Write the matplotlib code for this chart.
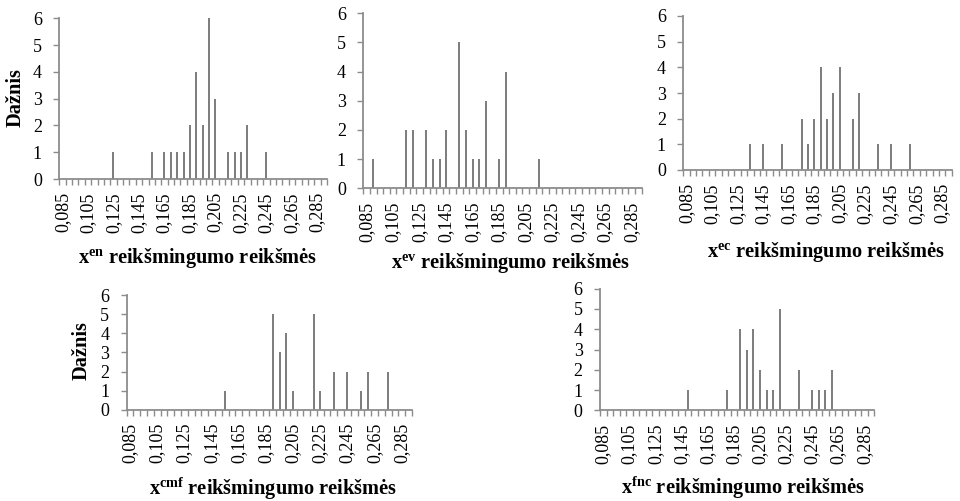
import numpy as np
import matplotlib
matplotlib.use("Agg")
import matplotlib.pyplot as plt

plt.rcParams['font.family'] = ['Liberation Serif', 'DejaVu Serif']
plt.rcParams['mathtext.fontset'] = 'custom'
plt.rcParams['mathtext.rm'] = 'Liberation Serif'
plt.rcParams['mathtext.bf'] = 'Liberation Serif:bold'
plt.rcParams['mathtext.it'] = 'Liberation Serif:italic'

# Category bins (significance values), step 0.005
bins = [0.085, 0.090, 0.095, 0.100, 0.105, 0.110, 0.115, 0.120, 0.125, 0.130,
        0.135, 0.140, 0.145, 0.150, 0.155, 0.160, 0.165, 0.170, 0.175, 0.180,
        0.185, 0.190, 0.195, 0.200, 0.205, 0.210, 0.215, 0.220, 0.225, 0.230,
        0.235, 0.240, 0.245, 0.250, 0.255, 0.260, 0.265, 0.270, 0.275, 0.280,
        0.285, 0.290]
tick_labels = ["0,085", "0,105", "0,125", "0,145", "0,165", "0,185",
               "0,205", "0,225", "0,245", "0,265", "0,285"]

# Frequencies of the significance values (non-empty bins only)
en_vals = [0.125, 0.155, 0.165, 0.170, 0.175, 0.180, 0.185, 0.190, 0.195,
           0.200, 0.205, 0.215, 0.220, 0.225, 0.230, 0.245]
en_cnts = [1, 1, 1, 1, 1, 1, 2, 4, 2, 6, 3, 1, 1, 1, 2, 1]

ev_vals = [0.090, 0.115, 0.120, 0.130, 0.135, 0.140, 0.145, 0.155, 0.160,
           0.165, 0.170, 0.175, 0.185, 0.190, 0.215]
ev_cnts = [1, 2, 2, 2, 1, 1, 2, 5, 2, 1, 1, 3, 1, 4, 1]

ec_vals = [0.135, 0.145, 0.160, 0.175, 0.180, 0.185, 0.190, 0.195, 0.200,
           0.205, 0.215, 0.220, 0.235, 0.245, 0.260]
ec_cnts = [1, 1, 1, 2, 1, 2, 4, 2, 3, 4, 2, 3, 1, 1, 1]

cmf_vals = [0.155, 0.190, 0.195, 0.200, 0.205, 0.220, 0.225, 0.235, 0.245,
            0.255, 0.260, 0.275]
cmf_cnts = [1, 5, 3, 4, 1, 5, 1, 2, 2, 1, 2, 2]

fnc_vals = [0.150, 0.180, 0.190, 0.195, 0.200, 0.205, 0.210, 0.215, 0.220,
            0.235, 0.245, 0.250, 0.255, 0.260]
fnc_cnts = [1, 1, 4, 3, 4, 2, 1, 1, 5, 2, 1, 1, 1, 2]

W, H = 960, 501
fig = plt.figure(figsize=(W / 100, H / 100), dpi=100)

BAR = '#7f7f7f'
AX = '#8c8c8c'
FS = 13
FS_LAB = 14.7


def frac_axes(left, right, top, bottom):
    return fig.add_axes([left / W, 1 - bottom / H, (right - left) / W, (bottom - top) / H])


def panel(box, vals, cnts, xlabel, xlabel_pos, ylabel_pos=None):
    ax = frac_axes(*box)
    pos = [int(round((v - bins[0]) / 0.005)) for v in vals]
    # thin histogram bars, one per non-empty bin, 2 px wide
    ax.vlines(pos, 0, cnts, colors=BAR, linewidth=1.44, antialiased=False,
              capstyle='butt')
    ax.set_xlim(-0.5, len(bins) - 0.5)
    ax.set_ylim(0, 6)
    for s in ('top', 'right'):
        ax.spines[s].set_visible(False)
    for s in ('left', 'bottom'):
        ax.spines[s].set_color(AX)
        ax.spines[s].set_linewidth(1.3)
        ax.spines[s].set_zorder(3)
    ax.set_yticks(range(7))
    ax.tick_params(axis='y', length=4, width=1, color=AX, labelsize=FS, pad=8.5)
    x = np.arange(len(bins))
    ax.set_xticks(x[::4])
    ax.set_xticklabels(tick_labels, rotation=90, fontsize=FS)
    ax.set_xticks(np.arange(-0.5, len(bins)), minor=True)
    ax.tick_params(axis='x', which='major', length=0, pad=9.5)
    ax.tick_params(axis='x', which='minor', length=4, width=1, color=AX)
    ax.patch.set_alpha(0)
    fig.text(xlabel_pos[0] / W, 1 - xlabel_pos[1] / H, xlabel, ha='center', va='center',
             fontsize=FS_LAB, fontweight='bold')
    if ylabel_pos is not None:
        fig.text(ylabel_pos[0] / W, 1 - ylabel_pos[1] / H, 'Dažnis', rotation=90,
                 ha='center', va='center', fontsize=FS_LAB, fontweight='bold')
    return ax


panel((59.3, 327, 18.3, 179), en_vals, en_cnts,
      r'$\mathbf{x^{en}}$ reikšmingumo reikšmės', (198, 258), (15.5, 98))
panel((363.3, 641.7, 13.3, 188.3), ev_vals, ev_cnts,
      r'$\mathbf{x^{ev}}$ reikšmingumo reikšmės', (510, 263))
panel((683.3, 951.7, 16, 170), ec_vals, ec_cnts,
      r'$\mathbf{x^{ec}}$ reikšmingumo reikšmės', (826, 252))
panel((126.7, 412, 295.2, 409.7), cmf_vals, cmf_cnts,
      r'$\mathbf{x^{cmf}}$ reikšmingumo reikšmės', (273, 489), (82, 351))
panel((600, 874.3, 288.7, 410.3), fnc_vals, fnc_cnts,
      r'$\mathbf{x^{fnc}}$ reikšmingumo reikšmės', (743.5, 488))

fig.savefig('out.png', dpi=100)
